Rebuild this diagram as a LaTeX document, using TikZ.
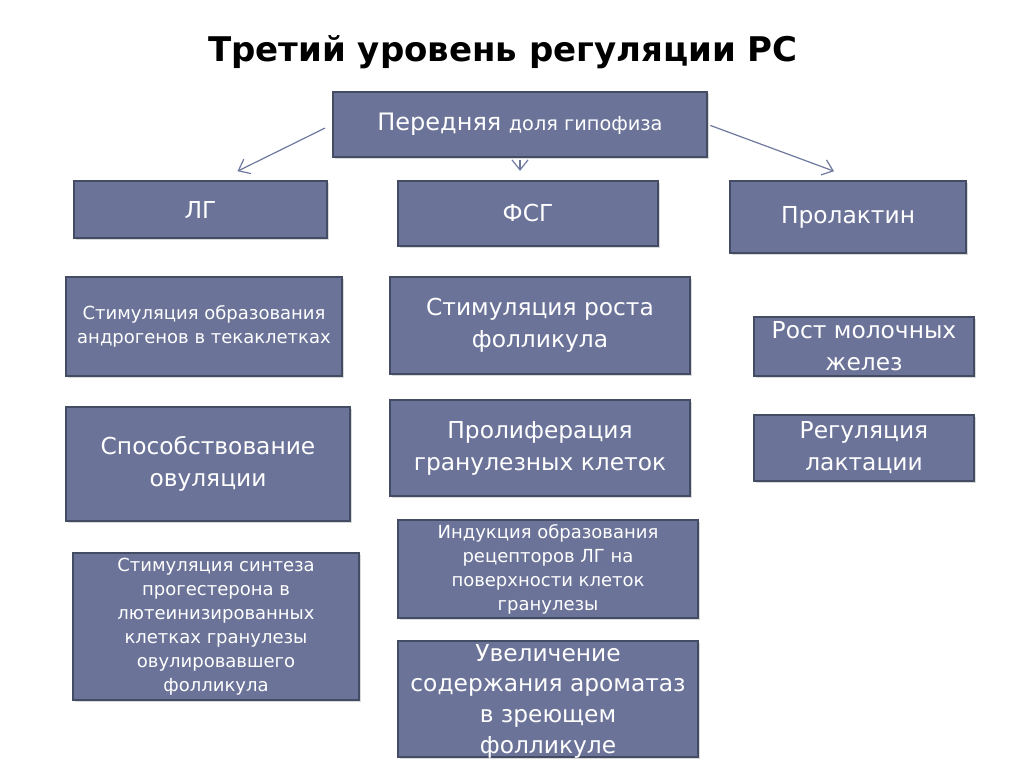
\documentclass[tikz,border=0pt]{standalone}
\usepackage{fontspec}
\setmainfont{DejaVu Sans}
\usepackage{tikz}
\usetikzlibrary{arrows.meta,shadows,calc}

\begin{document}
\begin{tikzpicture}[x=0.75pt, y=-0.75pt, every node/.style={font=\fontsize{17.5}{24}\selectfont}]
			% Define colors
			\definecolor{boxfill}{RGB}{107, 115, 153}
			\definecolor{boxline}{RGB}{68, 76, 100}
			\definecolor{arrowcol}{RGB}{110, 120, 158}

			% Styles
			\tikzstyle{hbox} = [fill=boxfill, draw=boxline, line width=1.2pt, text=white, align=center, inner sep=2pt, drop shadow={shadow xshift=1.5pt, shadow yshift=-1.5pt, opacity=0.3}]
			\tikzset{boxsize/.style 2 args={minimum width=#1*0.75pt, minimum height=#2*0.75pt}}
			\tikzstyle{small_txt} = [font=\fontsize{13.5}{18}\selectfont]
			\tikzstyle{arr} = [-{Straight Barb[length=7.5pt, width=12pt]}, arrowcol, line width=0.9pt]

			\useasboundingbox (0,0) rectangle (1024,767);

			% Title
			\node[font=\fontsize{25.5}{30}\selectfont\bfseries] (title) at (503, 52) {Третий уровень регуляции РС};

			% Top box
			\node[hbox, boxsize={374}{65}] (hyp) at (520, 124.5) {{\fontsize{18}{22}\selectfont Передняя} {\fontsize{14.5}{22}\selectfont доля гипофиза}};

			% Hormones
			\node[hbox, boxsize={253}{57}] (lg) at (200.5, 209.5) {ЛГ};
			\node[hbox, boxsize={260}{65}] (fsg) at (528, 213.5) {ФСГ};
			\node[hbox, boxsize={236}{72}] (prl) at (848, 217) {Пролактин};

			% Arrows from top box
			\draw[arr, shorten <=6pt] (hyp.west) -- ($(lg.north)+(37,-9)$);
			\draw[arr, shorten <=2pt, shorten >=7pt] (hyp.south) -- (hyp.south |- fsg.north);
			\draw[arr, shorten <=2pt] (hyp.east) -- ($(prl.north)+(-14,-9)$);

			% LH column
			\node[hbox, small_txt, boxsize={276}{99}] (andro) at (204, 326.5) {Стимуляция образования\\андрогенов в текаклетках};
			\node[hbox, boxsize={284}{114}] (ovul) at (208, 464) {Способствование\\овуляции};
			\node[hbox, small_txt, boxsize={286}{147}] (progest) at (216, 626.5) {Стимуляция синтеза\\прогестерона в\\лютеинизированных\\клетках гранулезы\\овулировавшего\\фолликула};

			% FSH column
			\node[hbox, boxsize={300}{97}] (growth) at (540, 325.5) {Стимуляция роста\\фолликула};
			\node[hbox, boxsize={300}{96}] (prolif) at (540, 448) {Пролиферация\\гранулезных клеток};
			\node[hbox, small_txt, boxsize={300}{98}] (induct) at (548, 569) {Индукция образования\\рецепторов ЛГ на\\поверхности клеток\\гранулезы};
			\node[hbox, boxsize={300}{116}] (arom) at (548, 699) {};
			\node[text=white, align=center, font=\fontsize{17.5}{23}\selectfont] (aromtxt) at (548, 701) {Увеличение\\содержания ароматаз\\в зреющем\\фолликуле};

			% Prolactin column
			\node[hbox, boxsize={220}{59}] (milk) at (864, 346.5) {Рост молочных\\желез};
			\node[hbox, boxsize={220}{66}] (lact) at (864, 448) {Регуляция\\лактации};

		\end{tikzpicture}
\end{document}
